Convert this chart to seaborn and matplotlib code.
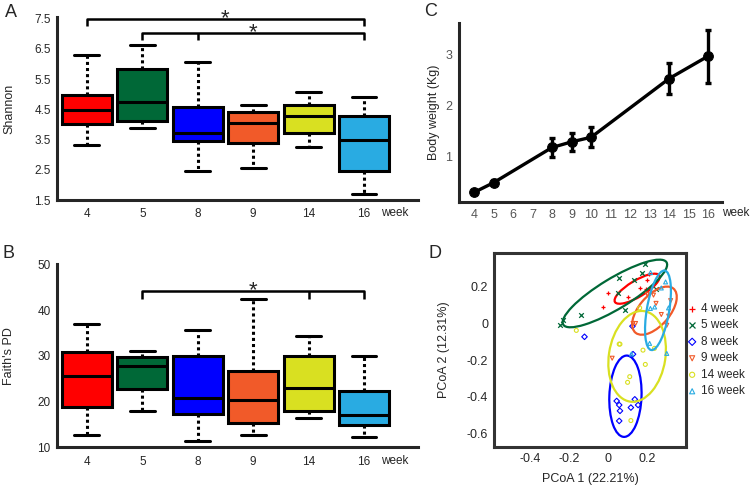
import matplotlib
matplotlib.use("Agg")
import numpy as np
import pandas as pd
import seaborn as sns
from matplotlib import pyplot as plt
from matplotlib.patches import Ellipse

WEEKS = ["4", "5", "8", "9", "14", "16"]
BOX_COLORS = ["#ff0000", "#006837", "#0000ff", "#f15a29", "#d9e021", "#29abe2"]

# five-number summaries: min, q1, median, q3, max
SHANNON_MIN = [3.31, 3.88, 2.46, 2.57, 3.27, 1.70]
SHANNON_Q1 = [4.02, 4.13, 3.44, 3.38, 3.71, 2.47]
SHANNON_MED = [4.48, 4.74, 3.73, 4.04, 4.27, 3.48]
SHANNON_Q3 = [4.96, 5.84, 4.57, 4.41, 4.65, 4.28]
SHANNON_MAX = [6.28, 6.62, 6.05, 4.66, 5.07, 4.90]

FAITH_MIN = [12.7, 17.9, 11.3, 12.6, 16.5, 12.2]
FAITH_Q1 = [18.9, 22.8, 17.3, 15.3, 17.9, 14.9]
FAITH_MED = [25.7, 27.7, 20.7, 20.3, 23.0, 17.1]
FAITH_Q3 = [30.9, 29.7, 30.1, 26.7, 29.9, 22.4]
FAITH_MAX = [37.1, 31.2, 35.7, 42.4, 34.4, 30.0]

# significance brackets: (start, end, middle tick or None, height)
SIG_A = [(0, 5, None, 7.5), (1, 5, 2, 7.03)]
SIG_B = [(1, 5, 4, 44.3)]

# body weight
BW_WEEK = [4, 5, 8, 9, 10, 14, 16]
BW_MEAN = [0.29, 0.48, 1.17, 1.28, 1.37, 2.52, 2.96]
BW_ERR = [0.03, 0.05, 0.18, 0.18, 0.20, 0.30, 0.52]

# PCoA scores
PC_LABELS = ["4 week", "5 week", "8 week", "9 week", "14 week", "16 week"]
PC_MARKERS = ["+", "x", "D", "v", "o", "^"]
PC1_4 = [0.0, -0.025, 0.102, 0.161, 0.195, 0.20, 0.21]
PC2_4 = [0.164, 0.09, 0.145, 0.196, 0.19, 0.236, 0.27]
PC1_5 = [-0.248, -0.232, -0.139, 0.054, 0.085, 0.05, 0.13, 0.173, 0.19, 0.243]
PC2_5 = [-0.009, 0.018, 0.045, 0.249, 0.073, 0.165, 0.235, 0.278, 0.327, 0.187]
PC1_8 = [-0.122, 0.124, 0.127, 0.043, 0.056, 0.06, 0.056, 0.116, 0.136, 0.153]
PC2_8 = [-0.073, -0.015, -0.168, -0.424, -0.446, -0.478, -0.533, -0.46, -0.415, -0.446]
PC1_9 = [0.127, 0.14, 0.20, 0.232, 0.245, 0.272, 0.30, 0.31, 0.32, 0.02]
PC2_9 = [0.0, 0.0, 0.16, 0.155, 0.11, 0.049, -0.01, 0.04, 0.125, -0.19]
PC1_14 = [-0.164, 0.06, 0.161, 0.178, 0.19, 0.11, 0.099, 0.116, 0.237, 0.056]
PC2_14 = [-0.038, -0.113, 0.085, -0.146, -0.224, -0.291, -0.322, -0.531, -0.136, -0.113]
PC1_16 = [0.217, 0.272, 0.294, 0.216, 0.238, 0.309, 0.212, 0.30, 0.119]
PC2_16 = [0.278, 0.194, 0.227, 0.082, 0.09, 0.085, -0.109, -0.164, -0.167]
PC1 = [PC1_4, PC1_5, PC1_8, PC1_9, PC1_14, PC1_16]
PC2 = [PC2_4, PC2_5, PC2_8, PC2_9, PC2_14, PC2_16]

# group ellipses: centre, axis lengths, rotation (deg)
ELL_X = [0.148, 0.034, 0.088, 0.237, 0.148, 0.255]
ELL_Y = [0.19, 0.164, -0.398, 0.07, -0.18, 0.072]
ELL_W = [0.27, 0.63, 0.165, 0.31, 0.29, 0.44]
ELL_H = [0.088, 0.165, 0.445, 0.16, 0.50, 0.115]
ELL_ANG = [33, 33, -2, 52, -8, 81]

FS = 8.5


def five_num_frame(mins, q1s, meds, q3s, maxs):
    rows = []
    for wk, vals in zip(WEEKS, zip(mins, q1s, meds, q3s, maxs)):
        for v in vals:
            rows.append({"week": wk, "value": v})
    return pd.DataFrame(rows)


def box_panel(ax, df, ylim, yticks, ylabel, sigs, drop):
    sns.boxplot(
        data=df, x="week", y="value", hue="week", order=WEEKS, hue_order=WEEKS,
        palette=BOX_COLORS, legend=False, width=0.9, whis=(0, 100),
        linecolor="black", linewidth=2.2, fliersize=0, saturation=1,
        whiskerprops={"linestyle": (0, (1, 1))}, ax=ax,
    )
    ax.set_xlim(-0.54, 5.97)
    ax.set_ylim(*ylim)
    ax.set_yticks(yticks)
    ax.set_xlabel("")
    ax.set_ylabel(ylabel, fontsize=FS + 0.5)
    ax.yaxis.set_label_coords(-0.116, 0.5)
    for s in ["top", "right"]:
        ax.spines[s].set_visible(False)
    for s in ["left", "bottom"]:
        ax.spines[s].set_linewidth(2.2)
    ax.tick_params(axis="x", length=0, labelsize=FS, pad=6)
    ax.tick_params(axis="y", length=2.5, width=1.5, labelsize=FS, pad=2)
    ax.annotate("week", xy=(5.55, 0), xycoords=("data", "axes fraction"),
                xytext=(0, -9.5), textcoords="offset points", ha="center",
                va="center", fontsize=FS, annotation_clip=False)
    for a, b, mid, h in sigs:
        ax.plot([a, a, b, b], [h - drop, h, h, h - drop], color="black",
                lw=1.8, clip_on=False, solid_capstyle="butt")
        if mid is not None:
            ax.plot([mid, mid], [h, h - drop], color="black", lw=1.8,
                    clip_on=False, solid_capstyle="butt")
        ax.annotate("*", xy=((a + b) / 2, h), xytext=(0, -4), textcoords="offset points",
                    ha="center", va="baseline", fontsize=16, annotation_clip=False)


sns.set_style("white")
plt.rcParams["font.family"] = ["Liberation Sans", "DejaVu Sans"]

fig = plt.figure(figsize=(7.5, 4.87), dpi=100)
ax_a = fig.add_axes([0.076, 0.589, 0.481, 0.376])
ax_b = fig.add_axes([0.076, 0.0815, 0.481, 0.376])
ax_c = fig.add_axes([0.612, 0.585, 0.351, 0.368])
ax_d = fig.add_axes([0.659, 0.082, 0.256, 0.398])

box_panel(ax_a, five_num_frame(SHANNON_MIN, SHANNON_Q1, SHANNON_MED, SHANNON_Q3, SHANNON_MAX),
          (1.5, 7.55), [1.5, 2.5, 3.5, 4.5, 5.5, 6.5, 7.5], "Shannon", SIG_A, 0.23)
box_panel(ax_b, five_num_frame(FAITH_MIN, FAITH_Q1, FAITH_MED, FAITH_Q3, FAITH_MAX),
          (10, 50.1), [10, 20, 30, 40, 50], "Faith's PD", SIG_B, 1.9)

# C: body weight
bw = pd.DataFrame({"week": BW_WEEK, "weight": BW_MEAN, "err": BW_ERR})
sns.lineplot(data=bw, x="week", y="weight", color="black", lw=2.4,
             marker="o", markersize=7, markeredgecolor="black", ax=ax_c)
ax_c.errorbar(bw["week"], bw["weight"], yerr=bw["err"], fmt="none",
              ecolor="black", elinewidth=2.4, capsize=2.5, capthick=2.4)
ax_c.set_xlim(3.23, 16.72)
ax_c.set_ylim(0.1, 3.61)
ax_c.set_xticks(range(4, 17))
ax_c.set_yticks([1, 2, 3])
ax_c.set_xlabel("")
ax_c.set_ylabel("Body weight (Kg)", fontsize=FS + 0.5)
ax_c.yaxis.set_label_coords(-0.072, 0.5)
for s in ["top", "right"]:
    ax_c.spines[s].set_visible(False)
for s in ["left", "bottom"]:
    ax_c.spines[s].set_linewidth(2.2)
ax_c.tick_params(length=3, width=1.3, labelsize=FS + 0.5, labelcolor="#555555", pad=2)
ax_c.annotate("week", xy=(1.05, 0), xycoords="axes fraction", xytext=(0, -8),
              textcoords="offset points", ha="center", va="center", fontsize=FS)

# D: PCoA
for i, lab in enumerate(PC_LABELS):
    col = BOX_COLORS[i]
    pts = pd.DataFrame({"pc1": PC1[i], "pc2": PC2[i]})
    if PC_MARKERS[i] in ["+", "x"]:
        sns.scatterplot(data=pts, x="pc1", y="pc2", marker=PC_MARKERS[i], color=col,
                        s=11, linewidth=0.9, label=lab, ax=ax_d)
    else:
        sns.scatterplot(data=pts, x="pc1", y="pc2", marker=PC_MARKERS[i],
                        facecolor="none", edgecolor=col, s=8, linewidth=0.8,
                        label=lab, ax=ax_d)
    ax_d.add_patch(Ellipse((ELL_X[i], ELL_Y[i]), ELL_W[i], ELL_H[i], angle=ELL_ANG[i],
                           fill=False, edgecolor=col, lw=1.6))
ax_d.set_xlim(-0.585, 0.40)
ax_d.set_ylim(-0.676, 0.384)
ax_d.set_xticks([-0.4, -0.2, 0, 0.2])
ax_d.set_xticklabels(["-0.4", "-0.2", "0", "0.2"])
ax_d.set_yticks([-0.6, -0.4, -0.2, 0, 0.2])
ax_d.set_yticklabels(["-0.6", "-0.4", "-0.2", "0", "0.2"])
ax_d.set_xlabel("PCoA 1 (22.21%)", fontsize=FS + 0.5)
ax_d.set_ylabel("PCoA 2 (12.31%)", fontsize=FS + 0.5)
ax_d.yaxis.set_label_coords(-0.229, 0.5)
ax_d.xaxis.set_label_coords(0.5, -0.134)
for s in ax_d.spines.values():
    s.set_linewidth(2.2)
    s.set_color("#333333")
ax_d.tick_params(length=3, width=1.3, labelsize=FS + 0.5, pad=1.5)
ax_d.legend(loc="center left", bbox_to_anchor=(1.0, 0.5), frameon=False,
            fontsize=FS, handlelength=1.0, handletextpad=0.25, labelspacing=0.38,
            borderpad=0, borderaxespad=0, markerscale=1.3)

for x, y, lab in [(0.006, 0.992, "A"), (0.004, 0.497, "B"), (0.566, 0.994, "C"),
                  (0.571, 0.497, "D")]:
    fig.text(x, y, lab, fontsize=13, va="top", ha="left")

fig.savefig("out.png", dpi=100)
